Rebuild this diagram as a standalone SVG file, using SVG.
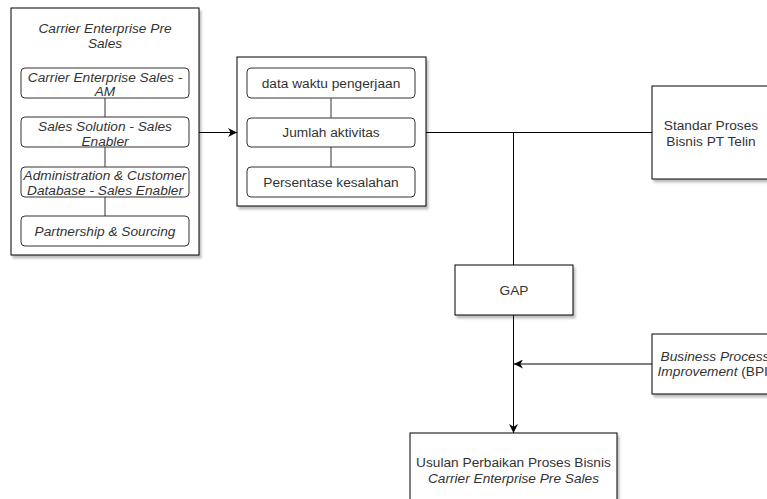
<svg xmlns="http://www.w3.org/2000/svg" width="767" height="499" viewBox="0 0 767 499">
<style>
.box{fill:#fff;stroke:#000;stroke-width:1}
.sh{filter:url(#shadow)}
.rbox{fill:#fff;stroke:#333;stroke-width:1}
.t{font-family:"Liberation Sans",Arial,sans-serif;font-size:13.7px;fill:#333;text-anchor:middle}
.i{font-style:italic}
.c{stroke:#000;stroke-width:1;fill:none}
.ci{stroke:#333;stroke-width:1;fill:none}
</style>
<defs>
<filter id="shadow" x="-10%" y="-10%" width="130%" height="130%">
<feDropShadow dx="2" dy="3" stdDeviation="1.2" flood-color="#000" flood-opacity="0.25"/>
</filter>
<marker id="arr" viewBox="0 0 10 10" refX="10" refY="5" markerWidth="9" markerHeight="9" markerUnits="userSpaceOnUse" orient="auto">
<path d="M0,0 L10,5 L0,10 L3,5 z" fill="#000"/>
</marker>
</defs>

<g id="connectors">
<line class="c" x1="199" y1="132.5" x2="237" y2="132.5" marker-end="url(#arr)"/>
<line class="c" x1="426" y1="132.5" x2="652" y2="132.5"/>
<line class="c" x1="513.5" y1="132.5" x2="513.5" y2="265"/>
<line class="c" x1="513.5" y1="315" x2="513.5" y2="433" marker-end="url(#arr)"/>
<line class="c" x1="652" y1="364" x2="514" y2="364" marker-end="url(#arr)"/>
</g>

<g id="pre-sales">
<rect class="box sh" x="11" y="8" width="188" height="247"/>
<text class="t i" x="105" y="32.5">Carrier Enterprise Pre</text>
<text class="t i" x="105" y="47.5">Sales</text>
<g id="inner-connectors-left">
<line class="ci" x1="105" y1="98" x2="105" y2="117"/>
<line class="ci" x1="105" y1="147" x2="105" y2="167"/>
<line class="ci" x1="105" y1="197" x2="105" y2="216"/>
</g>
<g id="sales-am">
<rect class="rbox" x="21" y="68" width="168" height="30" rx="4"/>
<text class="t i" x="105" y="81.5">Carrier Enterprise Sales -</text>
<text class="t i" x="105" y="96">AM</text>
</g>
<g id="sales-solution">
<rect class="rbox" x="21" y="117" width="168" height="30" rx="4"/>
<text class="t i" x="105" y="130.5">Sales Solution - Sales</text>
<text class="t i" x="105" y="145.5">Enabler</text>
</g>
<g id="admin-db">
<rect class="rbox" x="21" y="167" width="168" height="30" rx="4"/>
<text class="t i" x="105" y="179.5">Administration &amp; Customer</text>
<text class="t i" x="105" y="195">Database - Sales Enabler</text>
</g>
<g id="partnership">
<rect class="rbox" x="21" y="216" width="168" height="30" rx="4"/>
<text class="t i" x="105" y="235.5">Partnership &amp; Sourcing</text>
</g>
</g>

<g id="metrics">
<rect class="box sh" x="237" y="57" width="189" height="149"/>
<g id="inner-connectors-mid">
<line class="ci" x1="331" y1="98" x2="331" y2="118"/>
<line class="ci" x1="331" y1="147" x2="331" y2="167"/>
</g>
<g id="data-waktu">
<rect class="rbox" x="247" y="68" width="168" height="30" rx="4"/>
<text class="t" x="331" y="87.5">data waktu pengerjaan</text>
</g>
<g id="jumlah">
<rect class="rbox" x="247" y="118" width="168" height="29" rx="4"/>
<text class="t" x="331" y="137">Jumlah aktivitas</text>
</g>
<g id="persentase">
<rect class="rbox" x="247" y="167" width="168" height="30" rx="4"/>
<text class="t" x="331" y="186.5">Persentase kesalahan</text>
</g>
</g>

<g id="standar">
<rect class="box sh" x="652" y="86" width="118" height="93"/>
<text class="t" x="711" y="129.5">Standar Proses</text>
<text class="t" x="711" y="145.5">Bisnis PT Telin</text>
</g>

<g id="gap">
<rect class="box sh" x="455" y="265" width="118" height="50"/>
<text class="t" x="514" y="294.5">GAP</text>
</g>

<g id="bpi">
<rect class="box sh" x="652" y="334" width="126" height="60"/>
<text class="t" x="715" y="361"><tspan class="i">Business Process</tspan></text>
<text class="t" x="715" y="376"><tspan class="i">Improvement</tspan> (BPI)</text>
</g>

<g id="usulan">
<rect class="box sh" x="410" y="433" width="207" height="80"/>
<text class="t" x="513.5" y="466.5">Usulan Perbaikan Proses Bisnis</text>
<text class="t i" x="513.5" y="482.5">Carrier Enterprise Pre Sales</text>
</g>
</svg>
